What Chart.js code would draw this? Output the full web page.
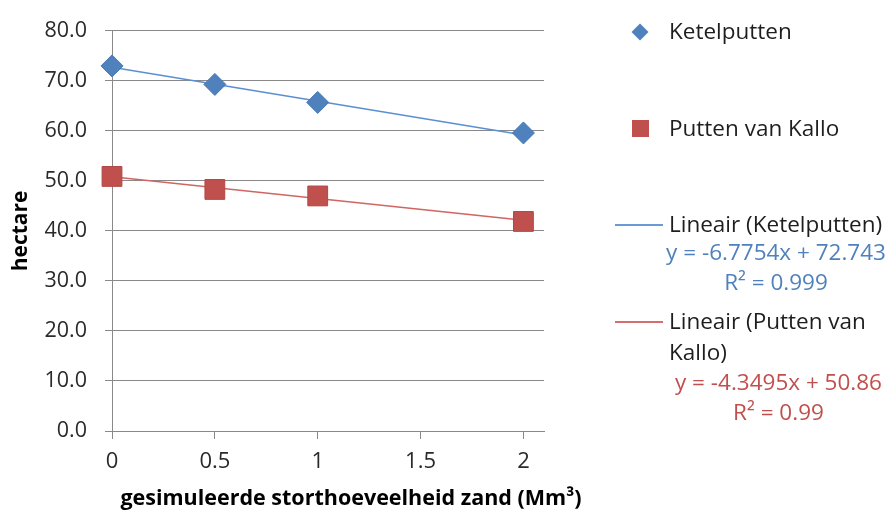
<!DOCTYPE html>
<html>
<head>
<meta charset="utf-8">
<script src="https://cdn.jsdelivr.net/npm/chart.js@4"></script>
<style>
  html, body { margin: 0; padding: 0; background: #fff; }
  #wrap { position: relative; width: 889px; height: 516px; overflow: hidden; font-family: "Open Sans", sans-serif; }
  canvas { position: absolute; left: 0; top: 0; }
  .lg { position: absolute; font-size: 22.5px; line-height: 30.5px; color: #1e1e1e; white-space: nowrap; }
  .eq { position: absolute; font-size: 22.5px; line-height: 30px; text-align: center; white-space: nowrap; }
  .mk { position: absolute; }
  .xt { position: absolute; left: 51px; width: 600px; top: 482px; text-align: center; font-size: 21.5px; line-height: 30px; font-weight: bold; color: #000; white-space: nowrap; }
</style>
</head>
<body>
<div id="wrap">
  <canvas id="c" width="889" height="516"></canvas>
  <div class="xt" id="xtitle"></div>
  <div class="mk" style="left:634px;top:26px;width:12px;height:12px;background:#4F81BD;transform:rotate(45deg);"></div>
  <div class="lg" style="left:669px;top:16px;">Ketelputten</div>
  <div class="mk" style="left:632px;top:120px;width:17px;height:17px;background:#C0504D;"></div>
  <div class="lg" style="left:669px;top:113px;">Putten van Kallo</div>
  <div class="mk" style="left:615px;top:224px;width:48px;height:2px;background:#6A9AD6;"></div>
  <div class="lg" style="left:669px;top:209px;">Lineair (Ketelputten)</div>
  <div class="eq" style="left:663px;top:237px;width:226px;color:#4F81BD;">y = -6.7754x + 72.743<br>R² = 0.999</div>
  <div class="mk" style="left:615px;top:321px;width:48px;height:2px;background:#D56F6C;"></div>
  <div class="lg" style="left:669px;top:306px;">Lineair (Putten van<br>Kallo)</div>
  <div class="eq" style="left:668px;top:367px;width:221px;color:#C0504D;">y = -4.3495x + 50.86<br>R² = 0.99</div>
</div>
<script>
const xValues = [0, 0.5, 1, 2];
const ketelputten = [73.0, 69.3, 65.7, 59.6];
const puttenVanKallo = [50.9, 48.3, 47.0, 41.9];
const trendX = [0, 2];
const trendKetelputten = [72.74, 59.19];
const trendPuttenVanKallo = [50.86, 42.16];
const xTicks = [0, 0.5, 1, 1.5, 2];
const yTicks = [0, 10, 20, 30, 40, 50, 60, 70, 80];
const xTitle = 'gesimuleerde storthoeveelheid zand (Mm³)';
const yTitle = 'hectare';

document.getElementById('xtitle').textContent = xTitle;

const pts = (xs, ys) => xs.map((x, i) => ({ x: x, y: ys[i] }));

new Chart(document.getElementById('c'), {
  type: 'scatter',
  data: {
    datasets: [
      { label: 'Ketelputten', data: pts(xValues, ketelputten), pointStyle: 'rectRot', pointRadius: 11,
        backgroundColor: '#4F81BD', borderColor: '#4678B5', borderWidth: 1, showLine: false, order: 0, clip: false },
      { label: 'Putten van Kallo', data: pts(xValues, puttenVanKallo), pointStyle: 'rect', pointRadius: 14,
        backgroundColor: '#C0504D', borderColor: '#B24744', borderWidth: 1, showLine: false, order: 0, clip: false },
      { label: 'Lineair (Ketelputten)', data: pts(trendX, trendKetelputten), showLine: true, pointRadius: 0,
        borderColor: '#5B8FD0', borderWidth: 1.5, order: 1, clip: false },
      { label: 'Lineair (Putten van Kallo)', data: pts(trendX, trendPuttenVanKallo), showLine: true, pointRadius: 0,
        borderColor: '#D06562', borderWidth: 1.5, order: 1, clip: false }
    ]
  },
  options: {
    responsive: false,
    animation: false,
    layout: { padding: { left: 0, right: 345, top: 25, bottom: 0 } },
    plugins: { legend: { display: false }, tooltip: { enabled: false } },
    scales: {
      x: {
        type: 'linear', min: 0, max: 2.1,
        afterBuildTicks: s => { s.ticks = xTicks.map(v => ({ value: v })); },
        afterFit: s => { s.height = 85; },
        ticks: { color: '#2a2a2a', font: { family: 'Open Sans', size: 22 }, padding: 10,
                 callback: v => String(v) },
        grid: { drawOnChartArea: false, drawTicks: true, tickLength: 8, color: '#898989' },
        border: { display: true, color: '#898989' },
        title: { display: false }
      },
      y: {
        type: 'linear', min: 0, max: 80,
        afterBuildTicks: s => { s.ticks = yTicks.map(v => ({ value: v })); },
        afterFit: s => { s.width = 112; },
        ticks: { color: '#2a2a2a', font: { family: 'Open Sans', size: 21.5 }, padding: 18,
                 callback: v => Number(v).toFixed(1) },
        grid: { color: '#898989', tickLength: 7, drawTicks: true },
        border: { display: true, color: '#898989' },
        title: { display: true, text: yTitle, color: '#000', font: { family: 'Open Sans', size: 21, weight: 'bold' }, padding: { top: 8, bottom: 0 } }
      }
    }
  }
});
</script>
</body>
</html>
